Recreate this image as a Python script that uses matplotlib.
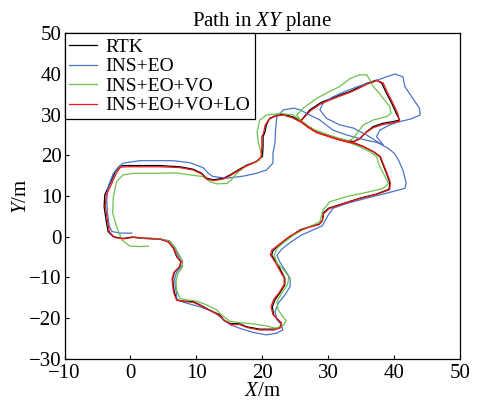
import matplotlib
matplotlib.use("Agg")
import matplotlib.pyplot as plt

plt.rcParams['font.family'] = ['Liberation Serif', 'DejaVu Serif']
plt.rcParams['mathtext.fontset'] = 'custom'
plt.rcParams['mathtext.rm'] = 'Liberation Serif'
plt.rcParams['mathtext.it'] = 'Liberation Serif:italic'

# RTK reference track (m)
rtk_x = [0.2, 1.9, 4.5, 5.7, 6.5, 7.0, 7.6, 7.5, 6.7, 6.4, 6.5, 6.7, 7.1, 8.0, 9.5, 10.5, 12.0, 13.6, 14.1, 15.1,
         16.6, 17.6, 19.6, 21.6, 22.6, 22.9, 22.4, 21.7, 21.5, 21.9, 22.6, 23.4, 23.4, 22.9, 22.2, 21.4, 21.6, 22.6,
         24.2, 25.7, 27.2, 28.6, 29.1, 29.2, 30.0, 32.3, 34.8, 37.3, 39.2, 39.3, 38.8, 38.3, 37.8, 36.8, 35.3, 34.0,
         32.8, 31.2, 29.7, 28.2, 26.9, 25.8,
         27.2, 28.7, 29.2, 31.7, 33.3, 34.3, 35.8, 37.3, 38.1, 38.8, 39.6, 40.3, 40.8, 39.8, 38.3, 36.8, 35.8, 34.8,
         33.8, 32.6, 31.2, 29.7, 28.2, 26.9, 25.9, 24.7, 23.2, 22.2, 21.1, 20.6, 20.4, 20.1, 20.1, 20.0, 19.1, 17.6,
         16.3, 15.1, 14.1, 12.6, 11.5, 10.8, 9.5, 7.5, 4.5, 1.4, -0.6, -1.6, -2.3, -3.1, -3.9, -4.0, -3.7, -3.4,
         -2.6, -1.1, 0.2]
rtk_y = [-0.1, -0.4, -0.6, -1.2, -2.8, -4.9, -6.1, -7.3, -8.6, -10.2, -12.2, -13.9, -15.5, -15.8, -15.9, -16.7,
         -18.0, -19.2, -20.4, -21.3, -21.4, -22.1, -22.7, -22.7, -22.3, -21.3, -20.4, -19.2, -17.2, -15.5, -13.9,
         -11.8, -10.2, -8.6, -6.5, -4.5, -3.4, -2.0, 0.0, 1.7, 2.5, 3.1, 4.1, 5.8, 7.0, 8.2, 9.5, 10.5, 11.7, 13.3,
         15.6, 17.6, 19.7, 20.9, 22.2, 23.0, 23.4, 24.2, 25.0, 25.8, 27.1, 28.5,
         31.2, 32.8, 33.2, 34.8, 35.7, 36.5, 37.7, 38.5, 37.7, 35.3, 32.8, 30.3, 28.7, 28.3, 27.9, 27.1, 25.8, 24.2,
         23.4, 23.7, 24.3, 25.1, 25.9, 27.2, 28.3, 29.4, 30.1, 29.9, 29.1, 27.5, 25.8, 24.6, 22.2, 19.7, 18.5, 17.6,
         16.4, 15.2, 14.4, 14.0, 14.4, 15.6, 16.6, 17.2, 17.5, 17.5, 17.5, 17.4, 16.0, 13.1, 10.3, 7.4, 4.1, 1.3,
         0.0, -0.4, -0.1]

# INS+EO
ins_eo_x = [0.0, 2.0, 4.5, 5.9, 6.8, 7.3, 7.9, 7.8, 7.0, 6.7, 6.8, 7.0, 7.0, 8.5, 10.5, 12.6, 13.8, 15.1, 16.6,
            18.6, 20.6, 22.1, 23.1, 22.9, 22.2, 21.9, 22.4, 23.4, 24.2, 24.2, 23.4, 22.6, 22.2, 22.9, 24.2, 25.9,
            27.7, 29.1, 29.4, 30.0, 30.7, 32.8, 35.8, 38.8, 41.6, 41.8, 41.3, 40.6, 40.0, 39.1, 38.3,
            36.8, 35.8, 33.8, 31.7, 29.7, 28.7, 29.2, 30.7, 32.8, 34.8, 36.8, 38.8, 40.1, 41.3, 41.6, 42.8, 43.8,
            43.9, 42.4, 40.8, 39.3, 37.8, 37.3, 38.3,
            37.3, 35.3, 32.8, 30.7, 28.7, 27.2, 25.7, 24.7, 23.2, 22.2, 22.0, 21.9, 21.6, 21.6, 20.6, 19.1, 17.1,
            14.6, 12.5, 11.8, 11.0, 9.0, 6.5, 1.4, -1.1, -1.8, -2.6, -3.4, -3.6, -3.5, -3.2, -2.8, -1.6, 0.2]
ins_eo_y = [0.0, -0.3, -0.5, -1.0, -2.8, -4.8, -6.1, -7.3, -8.7, -10.3, -12.3, -14.0, -15.5, -16.3, -17.2, -18.4,
            -20.0, -21.6, -22.5, -23.5, -24.1, -23.7, -22.9, -21.7, -20.4, -18.4, -16.3, -14.3, -12.2, -10.2, -8.1,
            -6.1, -4.5, -3.1, -1.4, 0.4, 1.7, 2.7, 3.7, 5.4, 7.0, 8.2, 9.5, 10.7, 11.9, 13.1, 16.4, 18.9, 20.5,
            21.7, 22.4,
            24.0, 25.0, 26.7, 27.5, 29.1, 31.2, 32.8, 34.4, 35.9, 37.1, 38.1, 39.3, 40.0, 39.3, 36.9, 34.0, 31.6,
            29.9, 28.9, 28.3, 27.5, 26.2, 24.6, 22.6,
            23.2, 23.9, 25.0, 26.2, 28.7, 29.9, 31.2, 31.6, 31.2, 29.5, 26.5, 23.0, 20.5, 18.1, 16.4, 15.6, 14.9,
            14.4, 14.8, 15.6, 17.0, 18.2, 18.7, 18.7, 18.1, 17.2, 15.6, 12.3, 9.0, 5.8, 2.5, 1.3, 0.9, 0.9]

# INS+EO+VO
ins_eo_vo_x = [0.0, 2.0, 4.5, 6.0, 6.8, 7.4, 7.8, 7.9, 7.2, 6.9, 7.0, 7.5, 8.5, 10.0, 11.5, 13.1, 13.8, 15.1,
               16.6, 18.6, 20.6, 22.1, 23.2, 23.6, 23.1, 22.4, 22.2, 22.9, 23.8, 24.0, 23.2, 22.2, 21.8, 22.2,
               23.4, 24.7, 26.2, 27.7, 28.7, 29.0, 29.2, 30.2, 32.8, 36.3, 38.3, 39.1, 38.6, 37.8, 37.3, 36.3, 34.8,
               32.8, 30.2, 27.7, 26.2, 25.2,
               26.2, 28.2, 30.2, 31.7, 33.3, 34.8, 35.8, 36.3, 36.8, 37.5, 38.3, 39.3, 39.5, 38.8, 36.8, 35.3, 34.5,
               33.8, 33.0,
               30.2, 27.7, 25.7, 24.7, 22.7, 20.6, 19.6, 19.2, 19.4, 19.9, 19.6, 18.6, 17.3, 16.1, 15.3, 14.6, 13.1,
               12.1, 11.0, 9.0, 7.0, 4.0, 0.4, -1.1, -2.1, -2.6, -2.7, -2.1, -1.3, -0.1, 1.4, 2.7]
ins_eo_vo_y = [0.0, -0.3, -0.5, -1.2, -2.8, -4.5, -5.7, -7.3, -9.0, -11.0, -13.1, -15.1, -15.5, -15.8, -16.7,
               -18.0, -19.2, -20.8, -21.1, -21.4, -21.9, -22.5, -21.7, -20.6, -19.6, -18.0, -15.9, -13.9, -11.8,
               -9.8, -8.1, -6.5, -4.5, -2.8, -1.2, 0.4, 1.8, 2.9, 3.7, 5.4, 6.6, 8.6, 9.9, 11.1, 11.9, 13.1, 14.8,
               17.2, 19.7, 20.9, 22.1, 23.4, 24.8, 26.3, 27.8, 29.9,
               31.6, 34.0, 35.7, 36.9, 38.9, 39.8, 39.8, 38.5, 36.9, 35.7, 34.0, 32.0, 30.3, 29.5, 28.7, 27.5, 25.8,
               24.2, 23.6,
               24.9, 26.4, 28.7, 29.9, 30.3, 29.9, 28.7, 25.8, 23.0, 20.1, 18.9, 18.1, 17.2, 15.6, 14.0, 13.1, 13.0,
               13.5, 14.8, 15.2, 15.7, 15.6, 15.6, 15.2, 13.6, 9.9, 5.8, 2.5, -0.8, -2.3, -2.4, -2.3]

# INS+EO+VO+LO
ins_eo_vo_lo_x = [0.2, 1.9, 4.5, 5.8, 6.6, 7.1, 7.7, 7.4, 6.6, 6.3, 6.4, 6.6, 7.0, 8.0, 9.5, 10.6, 12.1, 13.6,
                  14.2, 15.2, 16.6, 17.7, 19.6, 21.8, 22.8, 22.9, 22.3, 21.6, 21.3, 21.7, 22.5, 23.3, 23.3, 22.7,
                  22.0, 21.2, 21.4, 22.5, 24.1, 25.7, 27.2, 28.6, 29.1, 29.3, 30.1, 32.3, 34.8, 37.3, 39.3, 39.4,
                  38.9, 38.4, 37.9, 36.9, 35.3, 34.0, 32.8, 31.2, 29.7, 28.2, 26.9, 25.8,
                  27.3, 28.8, 29.3, 31.8, 33.3, 34.4, 35.9, 37.4, 38.3, 39.0, 39.8, 40.5, 40.8, 39.8, 38.3, 36.8, 35.7,
                  34.7, 33.7, 32.6, 31.2, 29.7, 28.2, 26.9, 25.9, 24.6, 23.2, 22.1, 21.0, 20.4, 20.2, 19.9, 19.9,
                  19.8, 19.0, 17.6, 16.3, 15.1, 14.1, 12.6, 11.5, 10.8, 9.5, 7.5, 4.5, 1.4, -0.6, -1.5, -2.1, -2.9,
                  -3.7, -3.8, -3.5, -3.2, -2.4, -1.0, 0.2]
ins_eo_vo_lo_y = [-0.1, -0.3, -0.6, -1.3, -2.9, -5.0, -6.2, -7.4, -8.7, -10.3, -12.2, -14.0, -15.6, -15.9, -16.1,
                  -16.9, -18.2, -19.4, -20.6, -21.5, -21.6, -22.3, -22.9, -22.9, -22.3, -21.2, -20.3, -19.1, -17.2,
                  -15.4, -13.8, -11.7, -10.1, -8.5, -6.4, -4.4, -3.3, -1.9, 0.1, 1.6, 2.4, 3.0, 4.0, 5.7, 6.9, 8.1,
                  9.4, 10.4, 11.6, 13.3, 15.6, 17.6, 19.7, 20.9, 22.1, 22.9, 23.3, 24.0, 24.8, 25.6, 26.9, 28.4,
                  31.0, 32.6, 33.0, 34.6, 35.5, 36.3, 37.5, 38.4, 37.8, 35.3, 32.8, 30.3, 28.4, 28.0, 27.6, 26.8,
                  25.6, 24.0, 23.2, 23.5, 24.1, 24.9, 25.7, 27.0, 28.1, 29.2, 29.9, 29.7, 28.9, 27.4, 25.7, 24.5,
                  22.1, 19.6, 18.4, 17.4, 16.2, 15.0, 14.2, 13.8, 14.2, 15.4, 16.4, 17.0, 17.2, 17.2, 17.2, 17.1,
                  15.8, 12.9, 10.2, 7.4, 4.1, 1.2, -0.2, -0.5, -0.2]

series = [
    ('RTK', rtk_x, rtk_y, 'black'),
    ('INS+EO', ins_eo_x, ins_eo_y, '#4a74c9'),
    ('INS+EO+VO', ins_eo_vo_x, ins_eo_vo_y, '#6cc24a'),
    ('INS+EO+VO+LO', ins_eo_vo_lo_x, ins_eo_vo_lo_y, '#f01818'),
]

fig = plt.figure(figsize=(4.78, 4.01), dpi=100)
ax = fig.add_axes([0.135, 0.105, 0.828, 0.812])

for name, xs, ys, c in series:
    ax.plot(xs, ys, color=c, lw=0.9, label=name)

ax.set_xlim(-10, 50)
ax.set_ylim(-30, 50)
ax.set_xticks(range(-10, 51, 10))
ax.set_yticks(range(-30, 51, 10))
ax.tick_params(direction='in', length=3, width=0.8, labelsize=15, top=False, right=False)
ax.tick_params(axis='x', pad=4)
ax.tick_params(axis='y', pad=2)
for s in ax.spines.values():
    s.set_linewidth(0.9)

ax.set_title(r'Path in $\mathit{XY}$ plane', fontsize=15, pad=3)
ax.set_xlabel(r'$\mathit{X}$/m', fontsize=15, labelpad=-1)
ax.set_ylabel(r'$\mathit{Y}$/m', fontsize=15, labelpad=-1)

leg = ax.legend(loc='upper left', borderaxespad=0, fontsize=14, fancybox=False, edgecolor='black',
                framealpha=1, handlelength=1.4, handletextpad=0.45, labelspacing=0.1, borderpad=0.25)
leg.get_frame().set_linewidth(0.9)

fig.savefig('out.png', dpi=100)
